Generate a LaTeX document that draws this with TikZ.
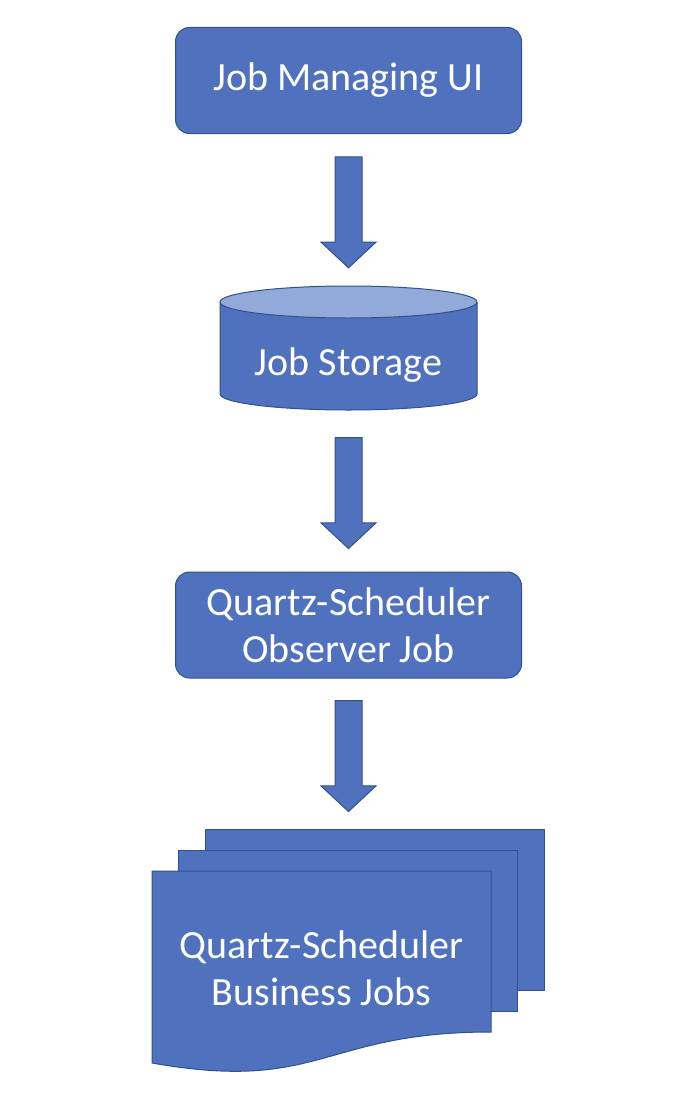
\documentclass[tikz,border=0pt]{standalone}
\usepackage{fontspec}
\setmainfont{Carlito}
\usetikzlibrary{shapes.arrows,calc}
\definecolor{boxblue}{RGB}{79,113,190}
\definecolor{boxline}{RGB}{47,82,143}
\definecolor{toplight}{RGB}{145,170,217}
\tikzset{
  lbl/.style={text=white, align=center, font=\fontsize{40}{47}\selectfont},
  box/.style={lbl, draw=boxline, fill=boxblue, line width=1pt, rounded corners=14pt,
    minimum width=346pt, minimum height=106pt},
  sheet/.style={draw=boxline, fill=boxblue, line width=1pt},
  down/.style={single arrow, draw=boxline, fill=boxblue, line width=1pt, rotate=-90,
    minimum height=111pt, inner xsep=0pt, inner ysep=13pt,
    single arrow head extend=14pt, single arrow tip angle=94}
}
\begin{document}
\begin{tikzpicture}[x=1pt,y=-1pt]
\useasboundingbox (0,0) rectangle (698,1108);
\node[box] (ui) at (348.5,80.5) {Job Managing UI};

% storage
\coordinate (storetop) at (348.5,286);
\coordinate (storebot) at (348.5,410);
\draw[sheet] (220,302) -- (220,394) arc[start angle=180, end angle=360, x radius=128.5pt, y radius=16pt] -- (477,302);
\draw[sheet, fill=toplight] (348.5,302) ellipse [x radius=128.5pt, y radius=16pt];
\node[lbl] (store) at (348.5,365) {Job Storage};

\node[box] (obs) at (348.5,625) {Quartz-Scheduler\\Observer Job};

% business jobs
\coordinate (docstop) at (348.5,829);
\foreach \s in {2,1}{
\draw[sheet] (152+26.5*\s, 871-21*\s) rectangle ++(339,161);
}
\draw[sheet] (152,871) -- (491,871) -- (491,1032) .. controls (321.5,1032) and (321.5,1093) .. (152,1063) -- cycle;
\node[lbl] (jobs) at (321.5,968) {Quartz-Scheduler\\Business Jobs};

\node[down] (a1) at ($(ui.south)!.5!(storetop)+(0,-4)$) {};
\node[down] (a2) at ($(storebot)!.5!(obs.north)+(0,-4)$) {};
\node[down] (a3) at ($(obs.south)!.5!(docstop)+(0,-4)$) {};
\end{tikzpicture}
\end{document}
